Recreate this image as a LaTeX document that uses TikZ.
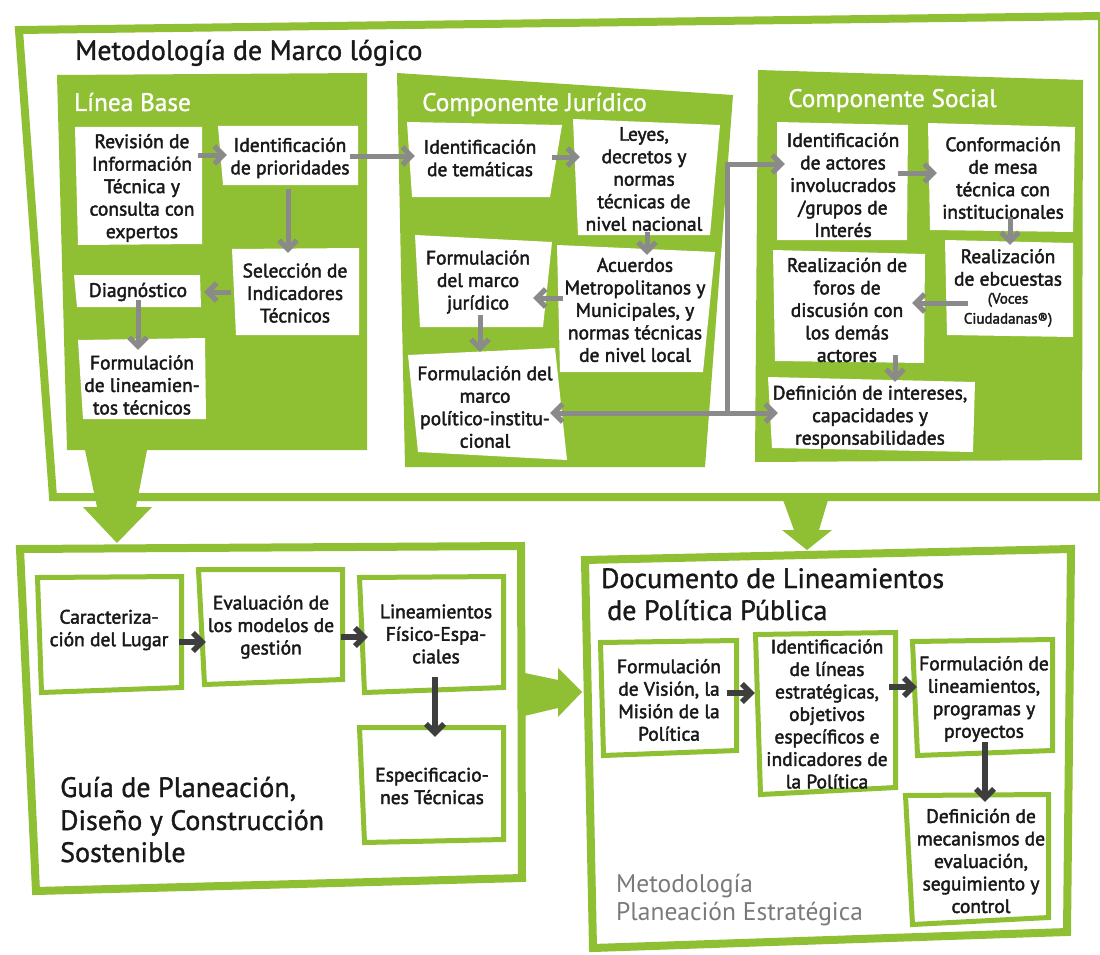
\documentclass[tikz,border=0pt]{standalone}
\usepackage{fontspec}
\setmainfont{PT Sans}
\newfontfamily\boxfont{PT Sans}[FakeBold=2.1]
\newfontfamily\titlefont{PT Sans}[FakeBold=1.2]
\usetikzlibrary{arrows.meta}
\definecolor{lgreen}{RGB}{143,191,50}
\definecolor{argrey}{RGB}{138,138,138}
\definecolor{ardark}{RGB}{62,62,62}
\definecolor{txtgrey}{RGB}{122,122,122}
\definecolor{ink}{RGB}{25,25,25}
\begin{document}
\begin{tikzpicture}[x=1pt,y=-1pt,
  frame/.style={draw=lgreen,line width=8pt,line join=miter},
  gbox/.style={draw=lgreen,fill=white,line width=5pt,line join=miter},
  boxtext/.style={align=center,inner sep=0pt,text=ink,font=\boxfont\fontsize{19.5}{22.5}\selectfont},
  ptitle/.style={anchor=base west,inner sep=0pt,text=white,font=\titlefont\fontsize{25.3}{30}\selectfont},
  htitle/.style={anchor=base west,inner sep=0pt,text=ink,font=\titlefont\fontsize{28}{33}\selectfont},
  mtitle/.style={anchor=base west,inner sep=0pt,text=txtgrey,font=\fontsize{25.5}{30}\selectfont},
  garrow/.style={draw=argrey,line width=5pt,-{Straight Barb[length=9pt,width=18pt]}},
  darrow/.style={draw=ardark,line width=5.5pt,-{Straight Barb[length=9pt,width=18pt]}},
  bigarrow/.style={fill=lgreen}]
\useasboundingbox (0,0) rectangle (1100,955);
\fill[white] (0,0) rectangle (1100,955);
% frames
\draw[frame] (19,30) -- (1102,16) -- (1102,497) -- (53,497) -- cycle;
\draw[frame] (20,549) -- (521,546) -- (522,878) -- (36,891) -- cycle;
\draw[frame] (585,560) -- (1071,549) -- (1067,932) -- (593,948) -- cycle;
% panels
\fill[lgreen] (57,75) -- (367,73) -- (367,450) -- (67,450) -- cycle;
\fill[lgreen] (397,73) -- (733,95) -- (705,467) -- (405,467) -- cycle;
\fill[lgreen] (758,70) -- (1083,80) -- (1082,460) -- (755,462) -- cycle;
% big arrows
\fill[bigarrow] (85,450) -- (147,450) -- (136,507) -- (152,507) -- (117,543) -- (83,507) -- (97,507) -- cycle;
\fill[bigarrow] (783,500) -- (828,500) -- (819,530) -- (832,530) -- (807,550) -- (782,530) -- (794,530) -- cycle;
\fill[bigarrow] (520,672) -- (558,680) -- (558,668) -- (582,692) -- (558,717) -- (558,708) -- (520,717) -- cycle;
% white boxes (top)
\fill[white] (75,127) -- (202,127) -- (202,244) -- (78,245) -- cycle;
\fill[white] (218,126) -- (358,126) -- (358,185) -- (223,185) -- cycle;
\fill[white] (232,249) -- (359,248) -- (359,335) -- (236,335) -- cycle;
\fill[white] (74,275) -- (200,275) -- (201,307) -- (77,307) -- cycle;
\fill[white] (78,340) -- (205,338) -- (206,419) -- (83,419) -- cycle;
\fill[white] (407,122) -- (562,125) -- (550,197) -- (412,197) -- cycle;
\fill[white] (573,119) -- (720,125) -- (710,235) -- (578,235) -- cycle;
\fill[white] (557,245) -- (715,252) -- (703,372) -- (560,372) -- cycle;
\fill[white] (415,235) -- (552,242) -- (543,327) -- (420,327) -- cycle;
\fill[white] (408,355) -- (555,348) -- (567,460) -- (418,452) -- cycle;
\fill[white] (777,122) -- (908,125) -- (907,240) -- (777,240) -- cycle;
\fill[white] (928,123) -- (1075,127) -- (1073,232) -- (930,230) -- cycle;
\fill[white] (945,240) -- (1073,243) -- (1073,337) -- (947,335) -- cycle;
\fill[white] (773,250) -- (925,254) -- (924,363) -- (775,361) -- cycle;
\fill[white] (768,377) -- (975,382) -- (973,452) -- (772,448) -- cycle;
% outlined boxes (bottom)
\draw[gbox] (37.5,577.5) -- (181.5,576.5) -- (181.5,687.5) -- (41.5,692.5) -- cycle;
\draw[gbox] (198.5,569.5) -- (342.5,569.5) -- (342.5,679.5) -- (204.5,684.5) -- cycle;
\draw[gbox] (359.5,577.5) -- (503.5,576.5) -- (503.5,687.5) -- (364.5,692.5) -- cycle;
\draw[gbox] (359.5,727.5) -- (503.5,727.5) -- (503.5,839.5) -- (364.5,842.5) -- cycle;
\draw[gbox] (600.5,642.5) -- (736.5,640.5) -- (736.5,750.5) -- (603.5,755.5) -- cycle;
\draw[gbox] (755.5,634.5) -- (895.5,632.5) -- (895.5,787.5) -- (760.5,794.5) -- cycle;
\draw[gbox] (912.5,641.5) -- (1052.5,639.5) -- (1052.5,750.5) -- (917.5,755.5) -- cycle;
\draw[gbox] (905.5,795.5) -- (1048.5,794.5) -- (1048.5,917.5) -- (912.5,924.5) -- cycle;
% titles
\node[htitle] (mt) at (75,60) {Metodología de Marco lógico};
\node[ptitle] (lbt) at (74,111) {Línea Base};
\node[ptitle] (cjt) at (422,111) {Componente Jurídico};
\node[ptitle] (cst) at (788,107) {Componente Social};
\node[htitle] (gt1) at (60,797) {Guía de Planeación,};
\node[htitle] (gt2) at (60,830) {Diseño y Construcción};
\node[htitle] (gt3) at (60,862) {Sostenible};
\node[htitle] (dt1) at (601,588) {Documento de Lineamientos};
\node[htitle] (dt2) at (607,620) {de Política Pública};
\node[mtitle] (mp1) at (616,892) {Metodología};
\node[mtitle] (mp2) at (616,920) {Planeación Estratégica};
% box texts (top)
\node[boxtext,minimum width=127pt,minimum height=118pt] (rev) at (142,188) {Revisión de\\Información\\Técnica y\\consulta con\\expertos};
\node[boxtext,minimum width=140pt,minimum height=58pt] (idp) at (290,158) {Identificación\\de prioridades};
\node[boxtext,minimum width=127pt,minimum height=86pt] (sel) at (295,293) {Selección de\\Indicadores\\Técnicos};
\node[boxtext,minimum width=126pt,minimum height=32pt] (diag) at (138,292) {Diagnóstico};
\node[boxtext,minimum width=127pt,minimum height=80pt] (flt) at (142,385) {Formulación\\de lineamien-\\tos técnicos};
\node[boxtext,minimum width=150pt,minimum height=75pt] (idt) at (480,158) {Identificación\\de temáticas};
\node[boxtext,minimum width=147pt,minimum height=113pt] (ley) at (644,179) {Leyes,\\decretos y\\normas\\técnicas de\\nivel nacional};
\node[boxtext,minimum width=155pt,minimum height=125pt] (acu) at (635,310) {Acuerdos\\Metropolitanos y\\Municipales, y\\normas técnicas\\de nivel local};
\node[boxtext,minimum width=135pt,minimum height=90pt] (fmj) at (478,282) {Formulación\\del marco\\jurídico};
\node[boxtext,minimum width=150pt,minimum height=105pt] (fmp) at (485,407) {Formulación del\\marco\\político-institu-\\cional};
\node[boxtext,minimum width=131pt,minimum height=118pt] (act) at (843,185) {Identificación\\de actores\\involucrados\\/grupos de\\Interés};
\node[boxtext,minimum width=147pt,minimum height=108pt] (conf) at (1003,178) {Conformación\\de mesa\\técnica con\\institucionales};
\node[boxtext,minimum width=128pt,minimum height=95pt] (enc) at (1008,288) {Realización\\de ebcuestas\\[-4.5pt]{\fontsize{15}{17}\selectfont (Voces}\\[-2.5pt]{\fontsize{15}{17}\selectfont Ciudadanas®)}};
\node[boxtext,minimum width=152pt,minimum height=112pt] (for) at (847,310) {Realización de\\foros de\\discusión con\\los demás\\actores};
\node[boxtext,minimum width=205pt,minimum height=72pt] (def) at (870,417) {Definición de intereses,\\capacidades y\\responsabilidades};
% box texts (bottom)
\node[boxtext,minimum width=149pt,minimum height=118pt] (car) at (109,630) {Caracteriza-\\ción del Lugar};
\node[boxtext,minimum width=149pt,minimum height=118pt] (eva) at (271,627) {Evaluación de\\los modelos de\\gestión};
\node[boxtext,minimum width=149pt,minimum height=118pt] (lin) at (436,634) {Lineamientos\\Físico-Espa-\\ciales};
\node[boxtext,minimum width=149pt,minimum height=118pt] (esp) at (432,786) {Especificacio-\\nes Técnicas};
\node[boxtext,minimum width=141pt,minimum height=118pt] (vis) at (669,700) {Formulación\\de Visión, la\\Misión de la\\Política};
\node[boxtext,minimum width=145pt,minimum height=165pt] (ide) at (827,714) {Identificación\\de líneas\\estratégicas,\\objetivos\\específicos e\\indicadores de\\la Política};
\node[boxtext,minimum width=145pt,minimum height=118pt] (fol) at (984,699) {Formulación de\\lineamientos,\\programas y\\proyectos};
\node[boxtext,minimum width=148pt,minimum height=130pt] (dem) at (981,861) {Definición de\\mecanismos de\\evaluación,\\seguimiento y\\control};
% arrows (top)
\draw[garrow,shorten <=-7.5pt,shorten >=-7pt] (rev.east |- 0,155) -- (idp.west |- 0,155);
\draw[garrow,shorten <=2pt,shorten >=-3pt] (idp.south -| 288,0) -- (sel.north -| 288,0);
\draw[garrow,shorten >=3pt] (sel.west |- 0,292) -- (diag.east |- 0,292);
\draw[garrow,shorten <=-8pt,shorten >=-5pt] (diag.south -| 138,0) -- (flt.north -| 138,0);
\draw[garrow,shorten <=-10pt,shorten >=-10pt] (idp.east |- 0,156) -- (idt.west |- 0,156);
\draw[garrow,shorten <=-3pt,shorten >=-9.5pt] (idt.east |- 0,157) -- (ley.west |- 0,157);
\draw[garrow,shorten <=-3.5pt,shorten >=-7.5pt] (ley.south -| 647,0) -- (acu.north -| 647,0);
\draw[garrow,shorten <=-5.5pt,shorten >=-12.5pt] (acu.west |- 0,298) -- (fmj.east |- 0,298);
\draw[garrow,shorten <=-12pt,shorten >=2.5pt] (fmj.south -| 480,0) -- (fmp.north -| 480,0);
\coordinate (jn) at (727,413);
\draw[garrow,shorten >=-10pt] (jn) -- (fmp.east |- jn);
\draw[garrow,shorten >=-10.5pt] (jn) -- (def.west |- jn);
\draw[garrow,shorten >=-7.5pt] (jn) |- (act.west |- 0,164);
\draw[garrow,shorten <=-10.5pt,shorten >=-7.5pt] (act.east |- 0,173) -- (conf.west |- 0,173);
\draw[garrow,shorten <=-15pt,shorten >=-4.5pt] (conf.south -| 1010,0) -- (enc.north -| 1010,0);
\draw[garrow,shorten <=-24pt,shorten >=-11pt] (enc.west |- 0,303) -- (for.east |- 0,303);
\draw[garrow,shorten <=-11pt,shorten >=-1pt] (for.south -| 895,0) -- (def.north -| 895,0);
% arrows (bottom)
\draw[darrow,shorten <=-4.5pt,shorten >=-9.5pt] (car.east |- 0,642) -- (eva.west |- 0,642);
\draw[darrow,shorten <=-4.5pt,shorten >=-6.5pt] (eva.east |- 0,637) -- (lin.west |- 0,637);
\draw[darrow,shorten <=-16pt,shorten >=-10pt] (lin.south -| 435,0) -- (esp.north -| 435,0);
\draw[darrow,shorten <=-12.5pt,shorten >=-0.5pt] (vis.east |- 0,693) -- (ide.west |- 0,693);
\draw[darrow,shorten <=-10.5pt,shorten >=-5.5pt] (ide.east |- 0,687) -- (fol.west |- 0,687);
\draw[darrow,shorten <=-16pt,shorten >=-6pt] (fol.south -| 985,0) -- (dem.north -| 985,0);
\end{tikzpicture}
\end{document}
